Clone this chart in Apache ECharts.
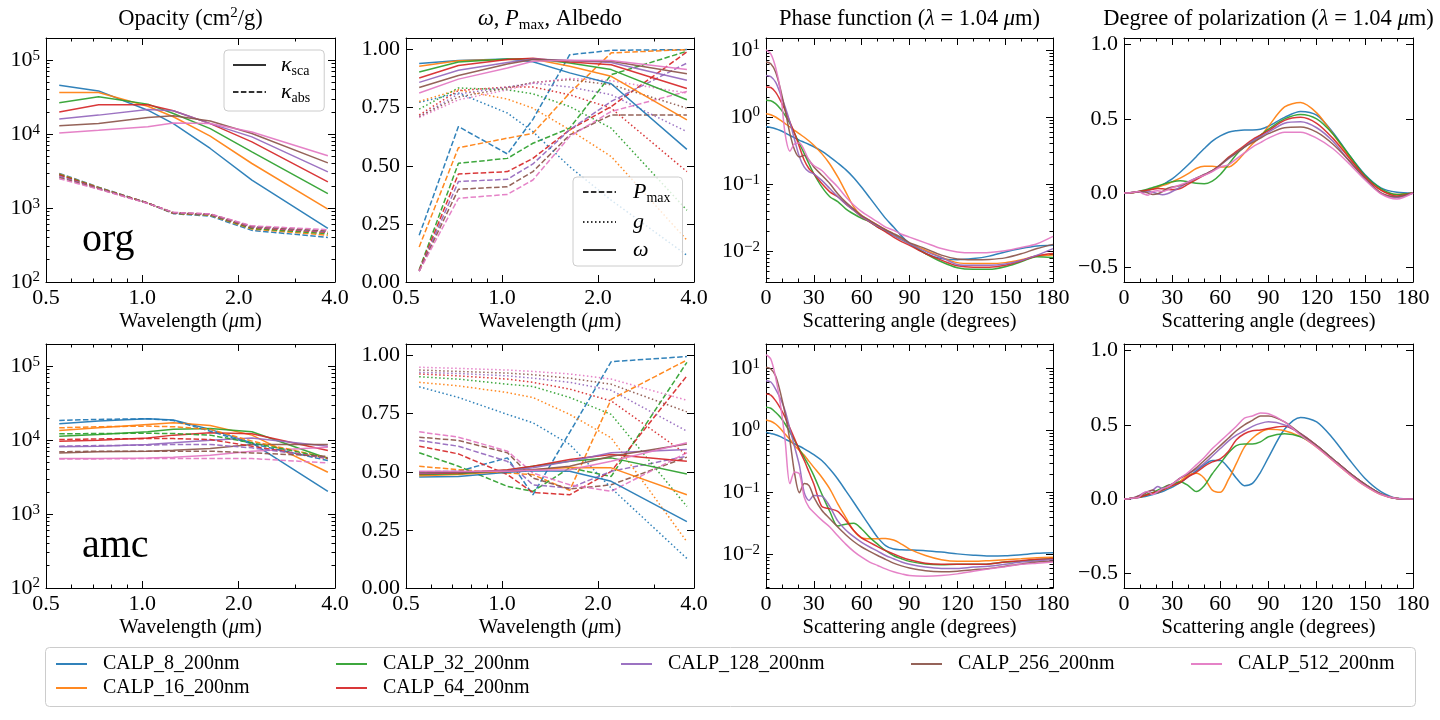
<!DOCTYPE html>
<html>
<head>
<meta charset="utf-8">
<script src="https://cdn.jsdelivr.net/npm/echarts@6/dist/echarts.min.js"></script>
<style>
html, body { margin: 0; background: #fff; }
#chart { width: 1440px; height: 720px; }
</style>
</head>
<body>
<div id="chart"></div>
<script>
// サイズ名と色 (tab10)
const sizes = ['CALP_8_200nm', 'CALP_16_200nm', 'CALP_32_200nm', 'CALP_64_200nm', 'CALP_128_200nm', 'CALP_256_200nm', 'CALP_512_200nm'];
const colors = ['#1f77b4', '#ff7f0e', '#2ca02c', '#d62728', '#9467bd', '#8c564b', '#e377c2'];

// 波長 (µm) と散乱角 (deg)
const wavelengths = [0.55, 0.73, 1.04, 1.25, 1.63, 2.2, 3.8];
const angles = [0, 3, 6, 9, 12, 15, 18, 21, 24, 27, 30, 35, 40, 45, 50, 55, 60, 65, 70, 75, 80, 85, 90, 100, 110, 120, 130, 140, 150, 160, 170, 180];

// org: opacity (cm2/g)
const orgKappaSca = [
    [46000, 38500, 21100, 13900, 6400, 2390, 530],
    [36600, 36600, 23900, 17200, 9400, 4010, 966],
    [26600, 32000, 25500, 19000, 11900, 5770, 1570],
    [20000, 25000, 25000, 20700, 13900, 7870, 2260],
    [16100, 18100, 21600, 20700, 13900, 9200, 3090],
    [13000, 13900, 16800, 17700, 15100, 10200, 4090],
    [10400, 11300, 12600, 14200, 13900, 10700, 5100]
];
const orgKappaAbs = [
    [2950, 1920, 1170, 840, 780, 500, 400],
    [2900, 1900, 1170, 850, 800, 520, 430],
    [2850, 1880, 1170, 855, 810, 530, 450],
    [2800, 1860, 1170, 860, 820, 545, 470],
    [2700, 1840, 1165, 865, 825, 555, 480],
    [2600, 1820, 1160, 870, 830, 565, 490],
    [2500, 1800, 1155, 875, 835, 575, 510]
];
// amc: opacity
const amcKappaSca = [
    [16700, 18100, 19500, 18700, 14000, 9200, 2030],
    [13500, 14700, 16300, 17200, 15800, 11700, 3680],
    [11300, 11900, 13000, 14000, 14400, 13000, 5640],
    [9700, 10000, 10700, 11700, 12600, 12200, 7240],
    [8120, 8290, 8740, 9200, 10000, 10700, 8290],
    [6730, 6950, 7100, 7320, 7710, 8740, 8740],
    [5640, 5640, 5760, 5880, 6250, 7100, 8030]
];
const amcKappaAbs = [
    [18500, 19100, 19500, 18500, 13200, 8920, 5300],
    [14700, 15200, 15500, 15200, 14000, 9700, 5760],
    [12200, 12300, 12400, 12300, 11700, 9200, 5760],
    [10200, 10400, 10500, 10500, 10200, 8290, 5640],
    [8290, 8460, 8550, 8740, 8740, 7870, 5760],
    [6950, 7100, 7100, 7100, 7100, 6730, 6060],
    [5580, 5580, 5640, 5640, 5640, 5640, 4920]
];

// org: albedo ω, Pmax, g
const orgAlbedo = [
    [0.94, 0.953, 0.96, 0.948, 0.90, 0.853, 0.571],
    [0.928, 0.952, 0.957, 0.96, 0.928, 0.885, 0.698],
    [0.904, 0.947, 0.96, 0.961, 0.942, 0.914, 0.784],
    [0.878, 0.932, 0.957, 0.963, 0.947, 0.935, 0.833],
    [0.859, 0.911, 0.945, 0.96, 0.953, 0.945, 0.868],
    [0.837, 0.889, 0.938, 0.957, 0.952, 0.95, 0.896],
    [0.813, 0.873, 0.921, 0.95, 0.954, 0.953, 0.914]
];
const orgPmax = [
    [0.201, 0.669, 0.551, 0.70, 0.978, 0.997, 1.0],
    [0.151, 0.578, 0.619, 0.64, 0.813, 0.986, 1.0],
    [0.053, 0.511, 0.532, 0.597, 0.662, 0.892, 0.993],
    [0.05, 0.465, 0.475, 0.532, 0.655, 0.755, 0.99],
    [0.047, 0.432, 0.442, 0.508, 0.655, 0.777, 0.942],
    [0.047, 0.399, 0.41, 0.475, 0.633, 0.719, 0.719],
    [0.047, 0.36, 0.377, 0.439, 0.626, 0.734, 0.82]
];
const orgAsym = [
    [0.773, 0.813, 0.727, 0.647, 0.496, 0.352, 0.115],
    [0.777, 0.827, 0.787, 0.748, 0.655, 0.54, 0.18],
    [0.744, 0.835, 0.827, 0.81, 0.755, 0.662, 0.309],
    [0.719, 0.824, 0.839, 0.839, 0.806, 0.748, 0.475],
    [0.712, 0.809, 0.839, 0.856, 0.839, 0.806, 0.647],
    [0.712, 0.796, 0.835, 0.859, 0.871, 0.849, 0.748],
    [0.708, 0.784, 0.827, 0.856, 0.876, 0.866, 0.813]
];
// amc: albedo ω, Pmax, g
const amcAlbedo = [
    [0.478, 0.48, 0.498, 0.505, 0.502, 0.459, 0.286],
    [0.483, 0.488, 0.502, 0.509, 0.519, 0.517, 0.401],
    [0.488, 0.492, 0.507, 0.524, 0.545, 0.56, 0.491],
    [0.492, 0.495, 0.509, 0.524, 0.553, 0.574, 0.545],
    [0.495, 0.498, 0.505, 0.517, 0.545, 0.582, 0.596],
    [0.499, 0.499, 0.502, 0.509, 0.524, 0.567, 0.62],
    [0.502, 0.502, 0.502, 0.507, 0.509, 0.545, 0.625]
];
const amcPmax = [
    [0.50, 0.502, 0.56, 0.401, 0.67, 0.974, 0.996],
    [0.524, 0.509, 0.495, 0.488, 0.42, 0.812, 0.981],
    [0.582, 0.524, 0.437, 0.416, 0.517, 0.48, 0.971],
    [0.61, 0.577, 0.488, 0.411, 0.401, 0.502, 0.913],
    [0.635, 0.61, 0.545, 0.444, 0.43, 0.502, 0.567],
    [0.649, 0.635, 0.582, 0.473, 0.426, 0.444, 0.563],
    [0.672, 0.649, 0.589, 0.495, 0.444, 0.416, 0.582]
];
const amcAsym = [
    [0.866, 0.82, 0.747, 0.711, 0.618, 0.43, 0.127],
    [0.885, 0.87, 0.841, 0.82, 0.747, 0.646, 0.199],
    [0.909, 0.899, 0.877, 0.867, 0.82, 0.747, 0.351],
    [0.921, 0.913, 0.899, 0.885, 0.856, 0.805, 0.574],
    [0.928, 0.923, 0.913, 0.903, 0.885, 0.851, 0.675],
    [0.938, 0.932, 0.925, 0.918, 0.903, 0.877, 0.758],
    [0.95, 0.945, 0.938, 0.932, 0.921, 0.899, 0.808]
];

// 位相関数 (λ = 1.04 µm)
const orgPhase = [
    [0.72, 0.70, 0.67, 0.63, 0.58, 0.53, 0.49, 0.45, 0.42, 0.39, 0.36, 0.31, 0.255, 0.207, 0.165, 0.125, 0.09, 0.063, 0.044, 0.031, 0.023, 0.017, 0.013, 0.0093, 0.0078, 0.0075, 0.0078, 0.0085, 0.0098, 0.011, 0.012, 0.0123],
    [1.12, 1.08, 1.0, 0.9, 0.8, 0.71, 0.63, 0.56, 0.5, 0.44, 0.38, 0.285, 0.2, 0.128, 0.077, 0.046, 0.034, 0.029, 0.0245, 0.021, 0.018, 0.0155, 0.0131, 0.0104, 0.0082, 0.0068, 0.0066, 0.0066, 0.0068, 0.0075, 0.0085, 0.0088],
    [1.77, 1.75, 1.58, 1.33, 1.06, 0.8, 0.565, 0.4, 0.285, 0.2, 0.143, 0.091, 0.065, 0.055, 0.043, 0.036, 0.031, 0.0275, 0.023, 0.02, 0.0173, 0.015, 0.013, 0.0093, 0.007, 0.0057, 0.0054, 0.0054, 0.0059, 0.007, 0.0083, 0.0081],
    [2.8, 2.75, 2.35, 1.77, 1.26, 0.84, 0.565, 0.358, 0.227, 0.17, 0.143, 0.102, 0.077, 0.065, 0.051, 0.041, 0.0325, 0.0275, 0.023, 0.0195, 0.0163, 0.014, 0.0123, 0.0093, 0.0074, 0.0061, 0.0058, 0.0058, 0.0062, 0.0072, 0.0086, 0.0093],
    [4.16, 4.0, 3.3, 2.22, 1.41, 0.84, 0.45, 0.254, 0.18, 0.152, 0.143, 0.114, 0.086, 0.065, 0.051, 0.041, 0.033, 0.028, 0.0237, 0.0205, 0.0173, 0.015, 0.013, 0.01, 0.0081, 0.0064, 0.0062, 0.0062, 0.0065, 0.0073, 0.0088, 0.011],
    [6.57, 6.2, 4.67, 2.64, 1.26, 0.565, 0.32, 0.254, 0.27, 0.227, 0.18, 0.136, 0.102, 0.072, 0.054, 0.043, 0.034, 0.029, 0.0245, 0.021, 0.0184, 0.016, 0.0135, 0.011, 0.0088, 0.0077, 0.0075, 0.0076, 0.008, 0.0092, 0.011, 0.0127],
    [10, 8.7, 5.5, 2.5, 0.56, 0.31, 0.4, 0.41, 0.32, 0.227, 0.19, 0.16, 0.12, 0.091, 0.065, 0.049, 0.039, 0.0325, 0.0275, 0.023, 0.0206, 0.018, 0.0163, 0.0134, 0.011, 0.0098, 0.0095, 0.0096, 0.0102, 0.0114, 0.013, 0.0167]
];
const amcPhase = [
    [0.94, 0.9, 0.86, 0.8, 0.73, 0.67, 0.61, 0.56, 0.51, 0.46, 0.41, 0.33, 0.24, 0.166, 0.108, 0.07, 0.045, 0.029, 0.019, 0.014, 0.0123, 0.012, 0.0119, 0.0116, 0.011, 0.0103, 0.0098, 0.0095, 0.0096, 0.01, 0.0105, 0.0107],
    [1.49, 1.42, 1.28, 1.08, 0.88, 0.72, 0.57, 0.48, 0.4, 0.32, 0.256, 0.177, 0.115, 0.066, 0.04, 0.0245, 0.0186, 0.018, 0.018, 0.0183, 0.0172, 0.0148, 0.0123, 0.0097, 0.0083, 0.0078, 0.0078, 0.008, 0.0083, 0.0086, 0.0089, 0.0091],
    [2.38, 2.3, 1.98, 1.65, 1.28, 0.95, 0.69, 0.5, 0.37, 0.27, 0.188, 0.095, 0.05, 0.029, 0.031, 0.032, 0.026, 0.019, 0.0148, 0.0116, 0.0097, 0.0086, 0.0078, 0.0071, 0.0069, 0.007, 0.007, 0.0071, 0.0076, 0.0078, 0.0083, 0.0086],
    [3.9, 3.75, 3.05, 2.3, 1.64, 1.1, 0.73, 0.48, 0.33, 0.213, 0.138, 0.06, 0.055, 0.05, 0.036, 0.0245, 0.0186, 0.0158, 0.0135, 0.0116, 0.0103, 0.0091, 0.0083, 0.0073, 0.007, 0.007, 0.007, 0.0071, 0.0076, 0.008, 0.0084, 0.0086],
    [6.4, 6.1, 4.7, 3.3, 2.1, 1.06, 0.54, 0.27, 0.1, 0.075, 0.09, 0.088, 0.06, 0.035, 0.025, 0.0195, 0.0158, 0.0133, 0.0114, 0.0097, 0.0086, 0.0076, 0.007, 0.0063, 0.006, 0.006, 0.0063, 0.0065, 0.007, 0.0076, 0.008, 0.0083],
    [10.5, 9.9, 7.7, 4.15, 1.86, 0.69, 0.2, 0.1, 0.14, 0.13, 0.085, 0.052, 0.038, 0.028, 0.021, 0.0163, 0.0133, 0.0113, 0.0097, 0.0084, 0.0073, 0.0066, 0.0061, 0.0055, 0.0053, 0.0054, 0.0057, 0.006, 0.0065, 0.0071, 0.0076, 0.0078],
    [16.8, 14.3, 7.3, 2.7, 0.69, 0.14, 0.215, 0.2, 0.084, 0.058, 0.048, 0.036, 0.028, 0.0202, 0.0148, 0.0113, 0.0091, 0.0076, 0.0067, 0.0059, 0.0053, 0.0049, 0.0046, 0.0045, 0.0046, 0.0049, 0.0054, 0.0059, 0.0064, 0.007, 0.0073, 0.0076]
];

// 偏光度 (λ = 1.04 µm)
const orgPolar = [
    [0, 0, 0.003, 0.008, 0.013, 0.02, 0.03, 0.04, 0.055, 0.075, 0.095, 0.14, 0.19, 0.245, 0.3, 0.35, 0.385, 0.41, 0.42, 0.425, 0.425, 0.43, 0.45, 0.51, 0.55, 0.525, 0.41, 0.26, 0.125, 0.035, 0.005, 0],
    [0, 0, 0.003, 0.007, 0.012, 0.02, 0.03, 0.04, 0.05, 0.06, 0.075, 0.1, 0.13, 0.165, 0.18, 0.18, 0.175, 0.175, 0.21, 0.27, 0.33, 0.38, 0.45, 0.58, 0.61, 0.54, 0.4, 0.25, 0.11, 0.02, -0.01, 0],
    [0, 0, 0.004, 0.01, 0.018, 0.027, 0.037, 0.047, 0.058, 0.068, 0.076, 0.082, 0.076, 0.065, 0.062, 0.08, 0.125, 0.19, 0.26, 0.31, 0.35, 0.39, 0.43, 0.5, 0.53, 0.5, 0.4, 0.26, 0.12, 0.03, -0.01, 0],
    [0, 0, 0.003, 0.01, 0.015, 0.02, 0.025, 0.03, 0.028, 0.025, 0.022, 0.03, 0.06, 0.09, 0.12, 0.15, 0.19, 0.24, 0.28, 0.32, 0.36, 0.39, 0.42, 0.49, 0.51, 0.47, 0.37, 0.24, 0.11, 0.02, -0.02, 0],
    [0, 0, 0.005, 0.006, 0.005, 0.01, 0.005, -0.005, -0.012, -0.005, 0.01, 0.04, 0.075, 0.1, 0.125, 0.15, 0.19, 0.23, 0.27, 0.31, 0.35, 0.38, 0.41, 0.47, 0.48, 0.44, 0.35, 0.22, 0.1, 0, -0.03, 0],
    [0, 0, 0.005, 0.008, 0.01, 0, -0.01, -0.005, 0.01, 0.03, 0.04, 0.05, 0.07, 0.1, 0.125, 0.15, 0.19, 0.235, 0.27, 0.31, 0.34, 0.37, 0.4, 0.44, 0.445, 0.41, 0.33, 0.22, 0.1, 0, -0.025, 0],
    [0, 0, 0.005, 0.01, -0.005, -0.015, 0.01, 0.015, 0.01, 0.02, 0.035, 0.055, 0.075, 0.1, 0.12, 0.145, 0.175, 0.19, 0.23, 0.27, 0.31, 0.34, 0.37, 0.41, 0.41, 0.37, 0.3, 0.2, 0.09, -0.005, -0.04, 0]
];
const amcPolar = [
    [0, 0.002, 0.005, 0.01, 0.015, 0.022, 0.03, 0.04, 0.05, 0.065, 0.08, 0.11, 0.15, 0.19, 0.23, 0.26, 0.26, 0.21, 0.14, 0.09, 0.105, 0.18, 0.28, 0.47, 0.55, 0.52, 0.41, 0.27, 0.14, 0.05, 0.005, 0],
    [0, 0.002, 0.006, 0.012, 0.02, 0.03, 0.04, 0.05, 0.06, 0.075, 0.09, 0.12, 0.16, 0.173, 0.14, 0.06, 0.045, 0.13, 0.24, 0.35, 0.41, 0.45, 0.47, 0.46, 0.42, 0.35, 0.26, 0.17, 0.09, 0.03, 0.003, 0],
    [0, 0.002, 0.006, 0.012, 0.02, 0.035, 0.045, 0.06, 0.075, 0.09, 0.1, 0.117, 0.09, 0.05, 0.09, 0.17, 0.24, 0.31, 0.36, 0.37, 0.37, 0.385, 0.42, 0.44, 0.42, 0.36, 0.27, 0.18, 0.1, 0.035, 0.003, 0],
    [0, 0.002, 0.006, 0.012, 0.02, 0.03, 0.04, 0.05, 0.06, 0.075, 0.09, 0.11, 0.15, 0.18, 0.22, 0.25, 0.27, 0.32, 0.4, 0.44, 0.46, 0.465, 0.475, 0.49, 0.44, 0.36, 0.27, 0.18, 0.1, 0.035, 0.003, 0],
    [0, 0.002, 0.008, 0.02, 0.04, 0.05, 0.06, 0.085, 0.07, 0.08, 0.1, 0.14, 0.17, 0.2, 0.24, 0.29, 0.34, 0.39, 0.43, 0.46, 0.49, 0.51, 0.52, 0.5, 0.44, 0.36, 0.27, 0.18, 0.1, 0.035, 0.003, 0],
    [0, 0.002, 0.008, 0.02, 0.03, 0.05, 0.06, 0.04, 0.06, 0.09, 0.1, 0.14, 0.17, 0.21, 0.26, 0.31, 0.36, 0.41, 0.46, 0.5, 0.53, 0.56, 0.56, 0.52, 0.44, 0.36, 0.27, 0.18, 0.1, 0.035, 0.003, 0],
    [0, 0.002, 0.006, 0.01, 0.04, 0.05, 0.03, 0.05, 0.07, 0.08, 0.1, 0.14, 0.18, 0.23, 0.28, 0.34, 0.39, 0.44, 0.49, 0.545, 0.56, 0.58, 0.575, 0.52, 0.43, 0.35, 0.26, 0.17, 0.09, 0.03, 0.003, 0]
];

// ---- レイアウト ----
const FONT = 'Liberation Serif';
const colLeft = [46, 406, 766, 1124];
const colWidth = [289, 288, 287, 289];
const rowTop = [38, 344];
const rowHeight = 244;
const DASH = [5.5, 2.4];
const DOT = [1.5, 2.5];

function logMinors(lo, hi) {
    const out = [];
    for (let e = Math.floor(Math.log10(lo)); e <= Math.ceil(Math.log10(hi)); e++) {
        for (let k = 2; k <= 9; k++) {
            const v = +(k * Math.pow(10, e)).toPrecision(3);
            if (v > lo && v < hi) out.push(v);
        }
    }
    return out;
}
function pow10Label(v) {
    const e = Math.round(Math.log10(v));
    return '{b|10}{sup|' + String(e).replace('-', '\u2212') + '}';
}

const richBase = {
    b: { fontFamily: FONT, fontSize: 22, lineHeight: 24, color: '#000' },
    sup: { fontFamily: FONT, fontSize: 15, lineHeight: 14, verticalAlign: 'top', color: '#000' },
    sub: { fontFamily: FONT, fontSize: 14, lineHeight: 14, verticalAlign: 'bottom', color: '#000' },
    i: { fontFamily: FONT, fontStyle: 'italic', color: '#000' }
};

const xWave = { type: 'log', logBase: 2, min: 0.5, max: 4, major: [0.5, 1, 2, 4], minor: [0.6, 0.7, 0.8, 0.9, 3],
    fmt: v => v.toFixed(1), name: 'Wavelength ({i|\u03bc}m)' };
const xAngle = { type: 'value', min: 0, max: 180, major: [0, 30, 60, 90, 120, 150, 180],
    minor: [10, 20, 40, 50, 70, 80, 100, 110, 130, 140, 160, 170], fmt: v => String(v), name: 'Scattering angle (degrees)' };
const yOpacity = { type: 'log', min: 100, max: 2e5, major: [100, 1e3, 1e4, 1e5], minor: logMinors(100, 2e5), fmt: pow10Label };
const yFrac = { type: 'value', min: 0, max: 1.05, major: [0, 0.25, 0.5, 0.75, 1], minor: [], fmt: v => v.toFixed(2) };
const yPhase = [
    { type: 'log', min: 0.0035, max: 15, major: [0.01, 0.1, 1, 10], minor: logMinors(0.0035, 15), fmt: pow10Label },
    { type: 'log', min: 0.0029, max: 25, major: [0.01, 0.1, 1, 10], minor: logMinors(0.0029, 25), fmt: pow10Label }
];
const yPolar = { type: 'value', min: -0.6, max: 1.045, major: [-0.5, 0, 0.5, 1], minor: [], fmt: v => v.toFixed(1).replace('-', '\u2212') };

const grids = [], xAxes = [], yAxes = [], series = [], titles = [], legends = [];

function axisBase(gi, c) {
    const a = { gridIndex: gi, type: c.type, min: c.min, max: c.max, splitLine: { show: false }, axisPointer: { show: false } };
    if (c.logBase) a.logBase = c.logBase;
    return a;
}
function ticks(values, len) {
    return { show: true, inside: true, length: len, customValues: values, lineStyle: { color: '#000', width: 1 } };
}
const axisLine = { show: true, onZero: false, lineStyle: { color: '#000', width: 1 } };
const noLine = { show: false, onZero: false };

// 1 パネル分の軸 (下/上/左/右, 主目盛と補助目盛)
function addPanel(row, col, xc, yc) {
    const gi = grids.length;
    grids.push({ left: colLeft[col], top: rowTop[row], width: colWidth[col], height: rowHeight,
        containLabel: false, outerBoundsMode: 'none' });
    const xi = xAxes.length;
    xAxes.push(Object.assign(axisBase(gi, xc), {
        position: 'bottom', axisLine: axisLine, axisTick: ticks(xc.major, 7),
        axisLabel: { customValues: xc.major, formatter: xc.fmt, margin: 4, fontFamily: FONT, fontSize: 22, lineHeight: 24, color: '#000' },
        name: xc.name, nameLocation: 'middle', nameGap: 27,
        nameTextStyle: { fontFamily: FONT, fontSize: 20.5, color: '#000', rich: { i: { fontFamily: FONT, fontStyle: 'italic', fontSize: 20.5 } } }
    }));
    xAxes.push(Object.assign(axisBase(gi, xc), { position: 'bottom', axisLine: noLine, axisTick: ticks(xc.minor, 3.5), axisLabel: { show: false } }));
    xAxes.push(Object.assign(axisBase(gi, xc), { position: 'top', axisLine: axisLine, axisTick: ticks(xc.major, 7), axisLabel: { show: false } }));
    xAxes.push(Object.assign(axisBase(gi, xc), { position: 'top', axisLine: noLine, axisTick: ticks(xc.minor, 3.5), axisLabel: { show: false } }));

    const yi = yAxes.length;
    yAxes.push(Object.assign(axisBase(gi, yc), {
        position: 'left', axisLine: axisLine, axisTick: ticks(yc.major, 7),
        axisLabel: { customValues: yc.major, formatter: yc.fmt, margin: 6, fontFamily: FONT, fontSize: 22, lineHeight: 24, color: '#000', rich: richBase }
    }));
    yAxes.push(Object.assign(axisBase(gi, yc), { position: 'left', axisLine: noLine, axisTick: ticks(yc.minor, 3.5), axisLabel: { show: false } }));
    yAxes.push(Object.assign(axisBase(gi, yc), { position: 'right', axisLine: axisLine, axisTick: ticks(yc.major, 7), axisLabel: { show: false } }));
    yAxes.push(Object.assign(axisBase(gi, yc), { position: 'right', axisLine: noLine, axisTick: ticks(yc.minor, 3.5), axisLabel: { show: false } }));
    return { xi: xi, yi: yi };
}

function addLine(name, p, xs, ys, color, dash, smooth) {
    series.push({
        name: name, type: 'line', xAxisIndex: p.xi, yAxisIndex: p.yi,
        data: xs.map((x, j) => [x, ys[j]]),
        symbol: 'none', smooth: smooth || false, silent: true,
        lineStyle: { color: color, width: 1.5, type: dash, opacity: 0.92 },
        itemStyle: { color: color }
    });
}

const rows = [
    { label: 'org', ksca: orgKappaSca, kabs: orgKappaAbs, omega: orgAlbedo, pmax: orgPmax, g: orgAsym, phase: orgPhase, pol: orgPolar },
    { label: 'amc', ksca: amcKappaSca, kabs: amcKappaAbs, omega: amcAlbedo, pmax: amcPmax, g: amcAsym, phase: amcPhase, pol: amcPolar }
];

rows.forEach((r, ri) => {
    const p1 = addPanel(ri, 0, xWave, yOpacity);
    r.ksca.forEach((ys, i) => addLine(sizes[i], p1, wavelengths, ys, colors[i], 'solid'));
    r.kabs.forEach((ys, i) => addLine(sizes[i], p1, wavelengths, ys, colors[i], DASH));
    if (ri === 0) {
        addLine('ksca', p1, [], [], '#222', 'solid');
        addLine('kabs', p1, [], [], '#222', DASH);
    }

    const p2 = addPanel(ri, 1, xWave, yFrac);
    r.pmax.forEach((ys, i) => addLine(sizes[i], p2, wavelengths, ys, colors[i], DASH));
    r.g.forEach((ys, i) => addLine(sizes[i], p2, wavelengths, ys, colors[i], DOT));
    r.omega.forEach((ys, i) => addLine(sizes[i], p2, wavelengths, ys, colors[i], 'solid'));
    if (ri === 0) {
        addLine('pmax', p2, [], [], '#222', DASH);
        addLine('gpar', p2, [], [], '#222', DOT);
        addLine('omega', p2, [], [], '#222', 'solid');
    }

    const p3 = addPanel(ri, 2, xAngle, yPhase[ri]);
    r.phase.forEach((ys, i) => addLine(sizes[i], p3, angles, ys, colors[i], 'solid', 0.3));

    const p4 = addPanel(ri, 3, xAngle, yPolar);
    r.pol.forEach((ys, i) => addLine(sizes[i], p4, angles, ys, colors[i], 'solid', 0.3));

    titles.push({ text: r.label, left: 82, top: rowTop[ri] + 182, padding: 0,
        textStyle: { fontFamily: FONT, fontSize: 40, fontWeight: 'normal', color: '#000' } });
});

// 列タイトル
const colTitles = [
    'Opacity (cm{sup|2}/g)',
    '{i|\u03c9}, {i|P}{sub|max}, Albedo',
    'Phase function ({i|\u03bb} = 1.04 {i|\u03bc}m)',
    'Degree of polarization ({i|\u03bb} = 1.04 {i|\u03bc}m)'
];
colTitles.forEach((t, c) => {
    titles.push({
        text: t, left: colLeft[c] + colWidth[c] / 2, top: 6, padding: 0, textAlign: 'center',
        textStyle: { fontFamily: FONT, fontSize: 22.5, fontWeight: 'normal', color: '#000', lineHeight: 27,
            rich: {
                i: { fontFamily: FONT, fontStyle: 'italic', fontSize: 22.5 },
                sup: { fontFamily: FONT, fontSize: 15, lineHeight: 15, verticalAlign: 'top' },
                sub: { fontFamily: FONT, fontSize: 15, lineHeight: 15, verticalAlign: 'bottom' }
            } }
    });
});

// 凡例のアイコンは線だけ (丸マーカーを消す)
const hideMarker = { color: 'rgba(0,0,0,0)', borderColor: 'rgba(0,0,0,0)', borderWidth: 0 };

// パネル内凡例
const mathRich = {
    k: { fontFamily: FONT, fontStyle: 'italic', fontSize: 22, lineHeight: 26, color: '#000' },
    s: { fontFamily: FONT, fontSize: 14, lineHeight: 14, verticalAlign: 'bottom', color: '#000' }
};
const mathNames = { ksca: '{k|\u03ba}{s|sca}', kabs: '{k|\u03ba}{s|abs}', pmax: '{k|P}{s|max}', gpar: '{k|g}', omega: '{k|\u03c9}' };
const boxStyle = { backgroundColor: 'rgba(255,255,255,0.8)', borderColor: '#cccccc', borderWidth: 1, borderRadius: 4 };
legends.push(Object.assign({
    data: ['ksca', 'kabs'], orient: 'vertical', left: 224, top: 50, padding: [4, 14, 6, 8],
    itemWidth: 33, itemHeight: 14, itemGap: 3, selectedMode: false, itemStyle: hideMarker,
    formatter: n => mathNames[n],
    textStyle: { fontFamily: FONT, fontSize: 20, color: '#000', padding: [0, 0, 0, 10], rich: mathRich }
}, boxStyle));
legends.push(Object.assign({
    data: ['pmax', 'gpar', 'omega'], orient: 'vertical', left: 573, top: 177, padding: [4, 12, 5, 9],
    itemWidth: 33, itemHeight: 14, itemGap: 6, selectedMode: false, itemStyle: hideMarker,
    formatter: n => mathNames[n],
    textStyle: { fontFamily: FONT, fontSize: 20, color: '#000', padding: [0, 0, 0, 12], rich: mathRich }
}, boxStyle));

// 下部の凡例 (matplotlib ncol=5 の列順)
const legendSlots = [[55, 653], [55, 677], [335, 653], [335, 677], [620, 653], [910, 653], [1190, 653]];
sizes.forEach((name, i) => {
    legends.push({
        data: [name], left: legendSlots[i][0], top: legendSlots[i][1], padding: 0,
        itemWidth: 31, itemHeight: 14, selectedMode: false, z: 5, itemStyle: hideMarker,
        textStyle: { fontFamily: FONT, fontSize: 20, lineHeight: 22, color: '#000', padding: [0, 0, 0, 11] }
    });
});

const chart = echarts.init(document.getElementById('chart'));
chart.setOption({
    animation: false,
    backgroundColor: '#fff',
    title: titles,
    legend: legends,
    grid: grids,
    xAxis: xAxes,
    yAxis: yAxes,
    series: series,
    graphic: [{
        type: 'rect', left: 45, top: 647, z: 0,
        shape: { width: 1370, height: 59, r: 4 },
        style: { fill: '#fff', stroke: '#cccccc', lineWidth: 1 }
    }]
});
</script>
</body>
</html>
